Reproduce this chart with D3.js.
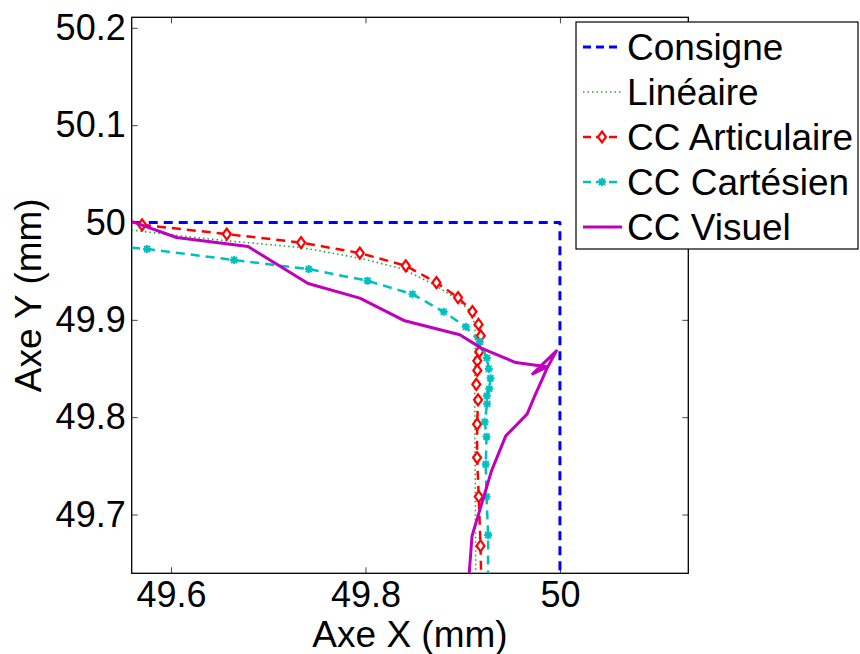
<!DOCTYPE html>
<html>
<head>
<meta charset="utf-8">
<script src="https://cdn.jsdelivr.net/npm/d3@7"></script>
<style>
  html, body { margin: 0; padding: 0; background: #fff; }
  svg { display: block; }
  text { font-family: "Liberation Sans", Arial, Helvetica, sans-serif; fill: #000; }
</style>
</head>
<body>
<svg id="chart" width="860" height="654"></svg>
<script>
// ---------- data ----------
const seriesNames = ["Consigne", "Linéaire", "CC Articulaire", "CC Cartésien", "CC Visuel"];

const consigneX = [49.50, 50.00, 50.00];
const consigneY = [50.00, 50.00, 49.50];

const lineaireX = [49.5594, 49.6091, 49.6571, 49.7338, 49.7942, 49.8387, 49.8695, 49.8918, 49.9055, 49.9114, 49.9134, 49.9124, 49.9124, 49.9129, 49.9134];
const lineaireY = [49.9922, 49.9863, 49.9812, 49.9743, 49.9634, 49.9521, 49.9367, 49.9229, 49.9110, 49.8990, 49.8836, 49.8579, 49.7962, 49.7345, 49.6390];

const articX = [49.5703, 49.6574, 49.7338, 49.7942, 49.8415, 49.8730, 49.8952, 49.9100, 49.9163, 49.9186, 49.9171, 49.9150, 49.9150, 49.9140, 49.9158, 49.9148, 49.9148, 49.9165, 49.9183, 49.9191];
const articY = [49.9976, 49.9881, 49.9794, 49.9686, 49.9555, 49.9383, 49.9229, 49.9085, 49.8953, 49.8836, 49.8673, 49.8579, 49.8480, 49.8337, 49.8178, 49.7928, 49.7585, 49.7184, 49.6677, 49.6300];
const articMarked = 19; // first N points carry markers

const cartX = [49.5590, 49.5754, 49.6649, 49.7417, 49.8021, 49.8483, 49.8805, 49.9032, 49.9175, 49.9248, 49.9268, 49.9286, 49.9273, 49.9248, 49.9251, 49.9227, 49.9245, 49.9237, 49.9245, 49.9261, 49.9261];
const cartY = [49.9743, 49.9727, 49.9614, 49.9521, 49.9401, 49.9264, 49.9082, 49.8928, 49.8774, 49.8609, 49.8496, 49.8399, 49.8291, 49.8219, 49.8137, 49.7952, 49.7798, 49.7517, 49.7184, 49.6790, 49.6300];
const cartMarkedFrom = 1, cartMarkedTo = 19;

const visuelX = [49.5594, 49.6057, 49.6793, 49.7410, 49.7942, 49.8404, 49.8970, 49.9196, 49.9546, 49.9864, 49.9720, 49.9964, 49.9864, 49.9810, 49.9741, 49.9662, 49.9443, 49.9296, 49.9096, 49.9066];
const visuelY = [50.0012, 49.9846, 49.9753, 49.9373, 49.9223, 49.8990, 49.8846, 49.8707, 49.8561, 49.8517, 49.8445, 49.8681, 49.8496, 49.8373, 49.8219, 49.8031, 49.7808, 49.7448, 49.6780, 49.6386];

const xTicks = [49.6, 49.8, 50];
const yTicks = [49.7, 49.8, 49.9, 50, 50.1, 50.2];
const xDomain = [49.5596, 50.1320];
const yDomain = [49.6396, 50.2108];

const xLabel = "Axe X (mm)";
const yLabel = "Axe Y (mm)";

// ---------- layout ----------
const svg = d3.select("#chart");
const W = 860, H = 654;
const mLeft = 131.7, mTop = 17.3, mRight = 688.3, mBottom = 573.3;
const FS = 37, TFS = 36;

svg.append("rect").attr("width", W).attr("height", H).attr("fill", "#fff");

const x = d3.scaleLinear().domain(xDomain).range([mLeft, mRight]);
const y = d3.scaleLinear().domain(yDomain).range([mBottom, mTop]);
const fmt = v => String(+v.toFixed(1));

svg.append("defs").append("clipPath").attr("id", "plotclip")
  .append("rect").attr("x", mLeft).attr("y", mTop).attr("width", mRight - mLeft).attr("height", mBottom - mTop);

// axes with inward ticks on all four sides
const gx = svg.append("g").attr("transform", `translate(0,${mBottom})`)
  .call(d3.axisBottom(x).tickValues(xTicks).tickSize(-6).tickPadding(8).tickFormat(fmt));
const gy = svg.append("g").attr("transform", `translate(${mLeft},0)`)
  .call(d3.axisLeft(y).tickValues(yTicks).tickSize(-6).tickPadding(6).tickFormat(fmt));
const gt = svg.append("g").attr("transform", `translate(0,${mTop})`)
  .call(d3.axisTop(x).tickValues(xTicks).tickSize(-6).tickFormat(""));
const gr = svg.append("g").attr("transform", `translate(${mRight},0)`)
  .call(d3.axisRight(y).tickValues(yTicks).tickSize(-6).tickFormat(""));
[gx, gy, gt, gr].forEach(g => {
  g.select(".domain").remove();
  g.selectAll(".tick line").attr("stroke", "#444").attr("stroke-width", 1);
  g.selectAll(".tick text").attr("font-size", TFS).attr("font-family", "Liberation Sans, Arial, sans-serif").attr("fill", "#000");
});

svg.append("rect").attr("x", mLeft).attr("y", mTop).attr("width", mRight - mLeft).attr("height", mBottom - mTop)
  .attr("fill", "none").attr("stroke", "#000").attr("stroke-width", 1.3);

// axis labels
svg.append("text").attr("x", (mLeft + mRight) / 2).attr("y", 646.5).attr("text-anchor", "middle")
  .attr("font-size", FS).text(xLabel);
svg.append("text").attr("transform", `translate(41,${(mTop + mBottom) / 2}) rotate(-90)`)
  .attr("text-anchor", "middle").attr("font-size", FS).text(yLabel);

// ---------- series ----------
const plot = svg.append("g").attr("clip-path", "url(#plotclip)");
const line = d3.line().x(d => x(d[0])).y(d => y(d[1]));
const zip = (a, b) => a.map((v, i) => [v, b[i]]);

const styles = {
  "Consigne":       { color: "#0000ff", width: 3,   dash: "9,6" },
  "Linéaire":       { color: "#3a9a3a", width: 1.6, dash: "1.5,3" },
  "CC Articulaire": { color: "#ff0000", width: 2.5, dash: "9,6" },
  "CC Cartésien":   { color: "#00bfbf", width: 2.5, dash: "9,6" },
  "CC Visuel":      { color: "#bf00bf", width: 3,   dash: null }
};

function drawLine(g, pts, st) {
  const p = g.append("path").datum(pts).attr("d", line).attr("fill", "none")
    .attr("stroke", st.color).attr("stroke-width", st.width).attr("stroke-linejoin", "round");
  if (st.dash) p.attr("stroke-dasharray", st.dash);
  return p;
}
const diamondPath = "M0,-5.5L4,0L0,5.5L-4,0Z";
const starPath = "M-4,0L4,0M0,-4L0,4M-3,-3L3,3M-3,3L3,-3";

drawLine(plot, zip(consigneX, consigneY), styles["Consigne"]);
drawLine(plot, zip(lineaireX, lineaireY), styles["Linéaire"]);
const articPts = zip(articX, articY);
drawLine(plot, articPts, styles["CC Articulaire"]);
plot.selectAll(".dia").data(articPts.slice(0, articMarked)).enter().append("path")
  .attr("d", diamondPath).attr("transform", d => `translate(${x(d[0])},${y(d[1])})`)
  .attr("fill", "#fff").attr("stroke", "#ff0000").attr("stroke-width", 2.2);
const cartPts = zip(cartX, cartY);
drawLine(plot, cartPts, styles["CC Cartésien"]);
plot.selectAll(".star").data(cartPts.slice(cartMarkedFrom, cartMarkedTo + 1)).enter().append("path")
  .attr("d", starPath).attr("transform", d => `translate(${x(d[0])},${y(d[1])})`)
  .attr("fill", "none").attr("stroke", "#00bfbf").attr("stroke-width", 2);
drawLine(plot, zip(visuelX, visuelY), styles["CC Visuel"]);

// ---------- legend ----------
const lg = svg.append("g");
lg.append("rect").attr("x", 576).attr("y", 22).attr("width", 282).attr("height", 227)
  .attr("fill", "#fff").attr("stroke", "#000").attr("stroke-width", 1.2);
seriesNames.forEach((name, i) => {
  const cy = 47 + i * 45;
  const st = styles[name];
  const l = lg.append("line").attr("x1", 583).attr("x2", 622).attr("y1", cy).attr("y2", cy)
    .attr("stroke", st.color).attr("stroke-width", st.width);
  if (st.dash) l.attr("stroke-dasharray", name === "Linéaire" ? st.dash : "8,5");
  if (name === "CC Articulaire") {
    lg.append("path").attr("d", diamondPath).attr("transform", `translate(602,${cy})`)
      .attr("fill", "#fff").attr("stroke", st.color).attr("stroke-width", 2.2);
  }
  if (name === "CC Cartésien") {
    lg.append("path").attr("d", starPath).attr("transform", `translate(602,${cy})`)
      .attr("fill", "none").attr("stroke", st.color).attr("stroke-width", 2);
  }
  lg.append("text").attr("x", 627).attr("y", cy + 13).attr("font-size", FS).text(name);
});
</script>
</body>
</html>
